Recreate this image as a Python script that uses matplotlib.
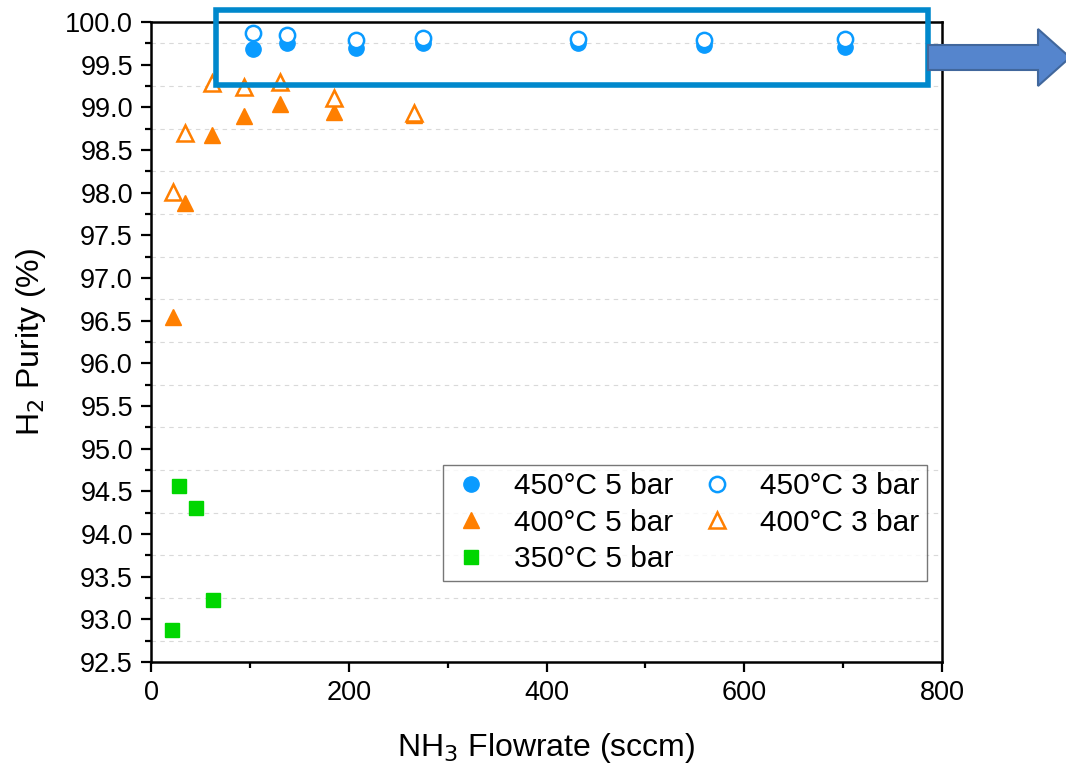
import matplotlib
matplotlib.use("Agg")
import matplotlib.pyplot as plt
import matplotlib.patches as mpatches
from matplotlib.ticker import MultipleLocator

plt.rcParams['font.family'] = ['Liberation Sans', 'DejaVu Sans']

# NH3 flowrate (sccm) and H2 purity (%)
flow_450_5 = [103, 137, 207, 275, 432, 559, 702]
purity_450_5 = [99.68, 99.75, 99.70, 99.75, 99.75, 99.73, 99.71]

flow_450_3 = [103, 137, 207, 275, 432, 559, 702]
purity_450_3 = [99.87, 99.85, 99.79, 99.81, 99.80, 99.79, 99.80]

flow_400_5 = [22, 34, 62, 94, 130, 185, 266]
purity_400_5 = [96.54, 97.88, 98.68, 98.90, 99.04, 98.95, 98.91]

flow_400_3 = [22, 34, 62, 94, 130, 185, 266]
purity_400_3 = [98.01, 98.70, 99.29, 99.24, 99.30, 99.11, 98.93]

flow_350_5 = [28, 45, 63, 21]
purity_350_5 = [94.56, 94.30, 93.23, 92.87]

blue = '#0A9BFF'
orange = '#FF7F00'
green = '#00D600'

fig = plt.figure(figsize=(10.66, 7.64), dpi=100)
ax = fig.add_axes([0.1417, 0.1335, 0.742, 0.8377])

ax.plot(flow_450_5, purity_450_5, 'o', ms=11, color=blue, mec=blue, ls='none', label='450°C 5 bar', zorder=3)
ax.plot(flow_400_5, purity_400_5, '^', ms=12, color=orange, mec=orange, ls='none', label='400°C 5 bar', zorder=3)
ax.plot(flow_350_5, purity_350_5, 's', ms=10, color=green, mec=green, ls='none', label='350°C 5 bar', zorder=3)
ax.plot(flow_450_3, purity_450_3, 'o', ms=11, mfc='white', mec=blue, mew=1.8, ls='none', label='450°C 3 bar', zorder=4)
ax.plot(flow_400_3, purity_400_3, '^', ms=12, mfc='white', mec=orange, mew=1.8, ls='none', label='400°C 3 bar', zorder=4)

ax.set_xlim(0, 800)
ax.set_ylim(92.5, 100.0)
ax.xaxis.set_major_locator(MultipleLocator(200))
ax.xaxis.set_minor_locator(MultipleLocator(100))
ax.yaxis.set_major_locator(MultipleLocator(0.5))
ax.yaxis.set_minor_locator(MultipleLocator(0.25))
ax.yaxis.set_major_formatter(matplotlib.ticker.FormatStrFormatter('%.1f'))

ax.tick_params(which='major', direction='out', length=7, width=1.6, labelsize=19.5, pad=6)
ax.tick_params(which='minor', direction='out', length=4, width=1.6)
for s in ax.spines.values():
    s.set_linewidth(1.8)

# grid sits on the minor ticks only
ax.yaxis.grid(True, which='minor', ls=(0, (4, 4)), color='#d9d9d9', lw=0.8)
ax.set_axisbelow(True)

ax.set_xlabel('NH$_3$ Flowrate (sccm)', fontsize=23, labelpad=18)
ax.set_ylabel('H$_2$ Purity (%)', fontsize=23, labelpad=12)

leg = ax.legend(ncol=2, loc='upper right', bbox_to_anchor=(0.981, 0.308),
                fontsize=21.5, frameon=True, fancybox=False,
                handlelength=1.4, handletextpad=0.75, columnspacing=0.75,
                labelspacing=0.28, borderpad=0.25, borderaxespad=0)
leg.get_frame().set_edgecolor('#555555')
leg.get_frame().set_linewidth(1.0)

# highlight box over the 450°C points and the arrow to the right
box = mpatches.Rectangle((65.3, 99.256), 720.7, 0.884, fill=False, ec='#0088CC',
                         lw=4, clip_on=False, zorder=5)
ax.add_patch(box)
arrow = mpatches.FancyArrow(928 / 1066, 1 - 57.5 / 764, (1070 - 928) / 1066, 0,
                            width=25 / 764, head_width=57 / 764, head_length=32 / 1066,
                            length_includes_head=True, transform=fig.transFigure,
                            fc='#5585CD', ec='#41679C', lw=1.5, clip_on=False)
fig.patches.append(arrow)

fig.savefig('out.png', dpi=100)
